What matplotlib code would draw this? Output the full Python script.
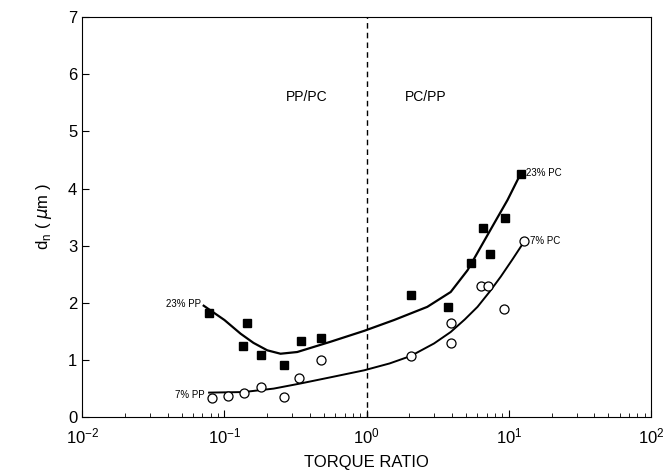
import numpy as np
import matplotlib
matplotlib.use('Agg')
import matplotlib.pyplot as plt

plt.rcParams['font.family'] = ['Liberation Sans', 'DejaVu Sans']

# measured points
pc23_x = [0.078, 0.145, 0.134, 0.182, 0.262, 0.343, 0.48, 2.04, 3.76, 5.43, 6.53, 7.35, 9.37, 12.2]
pc23_y = [1.82, 1.64, 1.25, 1.085, 0.92, 1.33, 1.39, 2.14, 1.92, 2.70, 3.31, 2.86, 3.49, 4.26]
pc7_x = [0.082, 0.106, 0.137, 0.18, 0.262, 0.337, 0.474, 2.06, 3.91, 3.91, 6.35, 7.19, 9.27, 12.7]
pc7_y = [0.34, 0.37, 0.43, 0.52, 0.35, 0.68, 1.0, 1.07, 1.645, 1.295, 2.30, 2.30, 1.90, 3.08]

# fitted curves
fit23_x = [0.0715, 0.1, 0.13, 0.16, 0.2, 0.248, 0.325, 0.558, 0.96, 1.56, 2.67, 3.9, 5.12, 6.35, 7.88, 9.79, 12.0]
fit23_y = [1.95, 1.70, 1.46, 1.30, 1.17, 1.11, 1.14, 1.32, 1.51, 1.70, 1.93, 2.19, 2.57, 2.98, 3.39, 3.80, 4.24]
fit7_x = [0.078, 0.137, 0.222, 0.343, 0.589, 0.96, 1.45, 2.04, 2.98, 3.9, 4.9, 6.02, 7.3, 8.78, 10.6, 12.8]
fit7_y = [0.43, 0.44, 0.50, 0.59, 0.71, 0.82, 0.94, 1.07, 1.29, 1.49, 1.71, 1.93, 2.19, 2.46, 2.76, 3.07]

fig = plt.figure(figsize=(6.63, 4.73), dpi=100)
ax = fig.add_axes([0.124, 0.118, 0.858, 0.846])

ax.plot(fit23_x, fit23_y, color='black', lw=1.6)
ax.plot(fit7_x, fit7_y, color='black', lw=1.4)
ax.plot(pc23_x, pc23_y, 's', color='black', ms=6, ls='none')
ax.plot(pc7_x, pc7_y, 'o', mfc='white', mec='black', mew=0.9, ms=6.5, ls='none')
ax.axvline(1.0, color='black', ls=(0, (4, 3)), lw=1)

ax.set_xscale('log')
ax.set_xlim(1e-2, 1e2)
ax.set_ylim(0, 7)
ax.set_yticks(range(8))

ax.text(0.068, 1.98, '23% PP', fontsize=7, ha='right', va='center')
ax.text(0.072, 0.38, '7% PP', fontsize=7, ha='right', va='center')
ax.text(13.3, 4.27, '23% PC', fontsize=7, ha='left', va='center')
ax.text(14.0, 3.08, '7% PC', fontsize=7, ha='left', va='center')
ax.text(0.38, 5.6, 'PP/PC', fontsize=10, ha='center', va='center')
ax.text(2.6, 5.6, 'PC/PP', fontsize=10, ha='center', va='center')

ax.tick_params(which='both', direction='in', labelsize=12)
ax.tick_params(which='major', length=5)
ax.tick_params(which='minor', length=3)
ax.tick_params(axis='y', which='minor', left=False)
ax.tick_params(axis='x', pad=7)
ax.set_xlabel('TORQUE RATIO', fontsize=12, labelpad=6)
ax.set_ylabel(r'd$_\mathregular{n}$ ( $\mu$m )', fontsize=12, labelpad=10)

plt.savefig('out.png', dpi=100)
